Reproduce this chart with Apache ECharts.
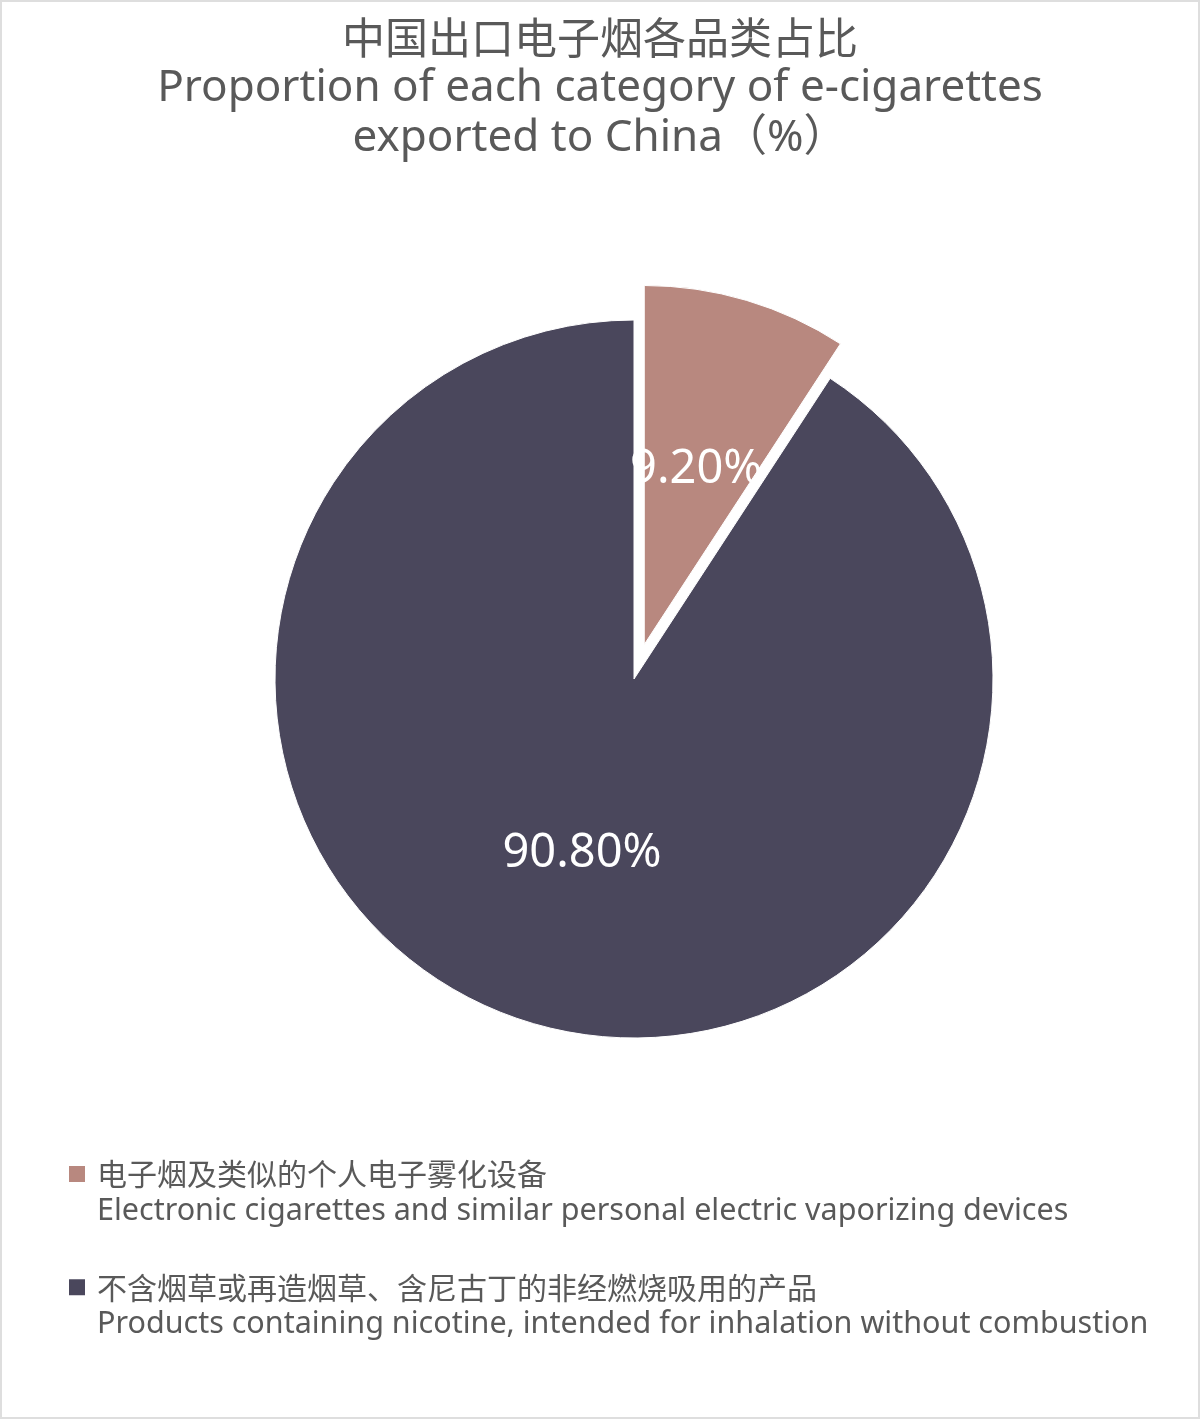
<!DOCTYPE html>
<html><head><meta charset="utf-8">
<script src="https://cdn.jsdelivr.net/npm/echarts@6/dist/echarts.min.js"></script>
<style>
html,body{margin:0;padding:0;background:#fff;}
#wrap{position:relative;width:1200px;height:1419px;}
#chart{position:absolute;left:0;top:0;width:1200px;height:1419px;}
#frame{position:absolute;left:0;top:0;width:1200px;height:1419px;box-sizing:border-box;border:2px solid #dedede;pointer-events:none;}
</style></head>
<body>
<div id="wrap"><div id="chart"></div><div id="frame"></div></div>
<script>
const titleZh = '中国出口电子烟各品类占比';
const titleEn = ['Proportion of each category of e-cigarettes', 'exported to China（%）'];
const categoriesZh = ['电子烟及类似的个人电子雾化设备', '不含烟草或再造烟草、含尼古丁的非经燃烧吸用的产品'];
const categoriesEn = ['Electronic cigarettes and similar personal electric vaporizing devices', 'Products containing nicotine, intended for inhalation without combustion'];
const shares = [9.2, 90.8];
const colors = ['#b8887f', '#4a475c'];

const LATIN = "'Noto Sans', 'Noto Sans CJK SC', sans-serif";
const CJK = "'Noto Sans CJK SC', 'Noto Sans', sans-serif";
const enMap = {};
categoriesZh.forEach((z, i) => { enMap[z] = categoriesEn[i]; });

const chart = echarts.init(document.getElementById('chart'), null, {renderer: 'canvas'});
chart.setOption({
  backgroundColor: '#ffffff',
  color: colors,
  title: {
    text: `{zh|${titleZh}}\n` + titleEn.map(t => `{en|${t}}`).join('\n'),
    left: 'center',
    top: 13,
    padding: 0,
    textStyle: {
      fontFamily: LATIN, fontSize: 43, fontWeight: 'normal', color: '#595959', lineHeight: 50, align: 'center',
      rich: {
        zh: {fontFamily: CJK, fontSize: 43, lineHeight: 50, color: '#595959'},
        en: {fontFamily: LATIN, fontSize: 44, lineHeight: 50, color: '#595959'}
      }
    }
  },
  legend: {
    orient: 'vertical',
    left: 67,
    top: 1159,
    padding: 0,
    itemGap: 46,
    itemWidth: 18,
    itemHeight: 18,
    icon: 'rect',
    selectedMode: false,
    data: categoriesZh,
    formatter: name => `{zh|${name}}\n{en|${enMap[name]}}`,
    textStyle: {
      fontFamily: LATIN,
      color: '#595959',
      padding: [37, 0, 0, 6],
      rich: {
        zh: {fontFamily: CJK, fontSize: 30, lineHeight: 37, color: '#595959'},
        en: {fontFamily: LATIN, fontSize: 30.5, lineHeight: 37, color: '#595959'}
      }
    }
  },
  series: [{
    type: 'pie',
    center: [634, 679],
    radius: [0, 359],
    startAngle: 90,
    clockwise: true,
    selectedMode: 'single',
    selectedOffset: 36,
    animation: false,
    silent: true,
    itemStyle: {borderColor: '#ffffff', borderWidth: 1},
    label: {
      show: true,
      position: 'inside',
      fontFamily: LATIN,
      fontSize: 47,
      color: '#ffffff',
      formatter: p => p.value.toFixed(2) + '%'
    },
    labelLine: {show: false},
    emphasis: {disabled: true},
    data: categoriesZh.map((n, i) => ({name: n, value: shares[i], selected: i === 0}))
  }]
});
</script>
</body></html>
